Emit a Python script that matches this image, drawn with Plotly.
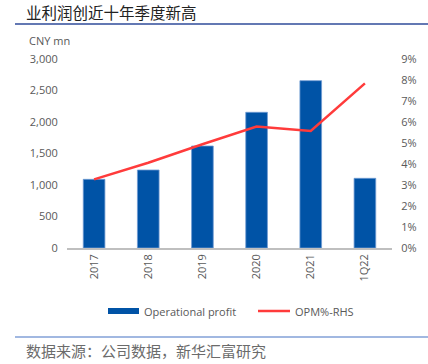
import plotly.graph_objects as go

categories = ["2017", "2018", "2019", "2020", "2021", "1Q22"]
op_profit = [1090, 1238, 1619, 2154, 2656, 1106]
opm = [0.0327, 0.0406, 0.0494, 0.0578, 0.0557, 0.0784]

L, R, T, B = 67, 36, 59, 116
W, H = 428, 364
pw, ph = W - L - R, H - T - B

def px(x):
    return (x - L) / pw

def py(y):
    return (H - B - y) / ph

BLUE = "#0053A6"
RED = "#FF3B3B"

fig = go.Figure()
fig.add_trace(go.Bar(
    x=categories, y=op_profit, name="Operational profit",
    marker=dict(color=BLUE, line=dict(color="#6E9BD3", width=0.8)),
))
fig.add_trace(go.Scatter(
    x=categories, y=opm, name="OPM%-RHS", yaxis="y2", mode="lines",
    line=dict(color=RED, width=2.5),
))

tickfont = dict(family="Open Sans, Liberation Sans, sans-serif", size=11, color="#595959")

fig.update_layout(
    width=W, height=H,
    margin=dict(l=L, r=R, t=T, b=B, autoexpand=False),
    paper_bgcolor="white", plot_bgcolor="white",
    bargap=0.6,
    showlegend=False,
    xaxis=dict(type="category", tickangle=-90, tickfont=tickfont, showgrid=False,
               showline=True, linecolor="#BFBFBF", linewidth=1.5, ticks="", automargin=False),
    yaxis=dict(range=[0, 3000], dtick=500, tickformat=",", tickfont=tickfont, automargin=False,
               showgrid=False, zeroline=False, ticks="outside", ticklen=6, tickcolor="rgba(0,0,0,0)"),
    yaxis2=dict(range=[0, 0.09], dtick=0.01, tickformat=".0%", tickfont=tickfont, automargin=False,
                overlaying="y", side="right", showgrid=False, zeroline=False,
                ticks="outside", ticklen=6, tickcolor="rgba(0,0,0,0)"),
    shapes=[
        dict(type="line", xref="paper", yref="paper", x0=px(15), x1=px(428), y0=py(24), y1=py(24),
             line=dict(color="#2F4B9A", width=1.5)),
        dict(type="line", xref="paper", yref="paper", x0=px(15), x1=px(428), y0=py(337), y1=py(337),
             line=dict(color="#4472C4", width=1.2)),
        # custom legend symbols
        dict(type="rect", xref="paper", yref="paper", x0=px(108), x1=px(139), y0=py(308), y1=py(314),
             fillcolor=BLUE, line=dict(width=0)),
        dict(type="line", xref="paper", yref="paper", x0=px(258), x1=px(290), y0=py(311), y1=py(311),
             line=dict(color=RED, width=2.5)),
    ],
    annotations=[
        dict(text="业利润创近十年季度新高", xref="paper", yref="paper", x=px(24), y=py(12),
             xanchor="left", yanchor="middle", showarrow=False,
             font=dict(family="Noto Sans CJK SC", size=15.5, color="#222222")),
        dict(text="CNY mn", xref="paper", yref="paper", x=px(27), y=py(40),
             xanchor="left", yanchor="middle", showarrow=False, font=tickfont),
        dict(text="Operational profit", xref="paper", yref="paper", x=px(142), y=py(311),
             xanchor="left", yanchor="middle", showarrow=False, font=tickfont),
        dict(text="OPM%-RHS", xref="paper", yref="paper", x=px(293), y=py(311),
             xanchor="left", yanchor="middle", showarrow=False, font=tickfont),
        dict(text="数据来源：公司数据，新华汇富研究", xref="paper", yref="paper", x=px(24), y=py(350),
             xanchor="left", yanchor="middle", showarrow=False,
             font=dict(family="Noto Sans CJK SC", size=15, color="#6b6b6b")),
    ],
)

fig.write_html("out.html", config={"displayModeBar": False},
               post_script="document.body.style.margin='0';document.body.style.overflow='hidden';")
